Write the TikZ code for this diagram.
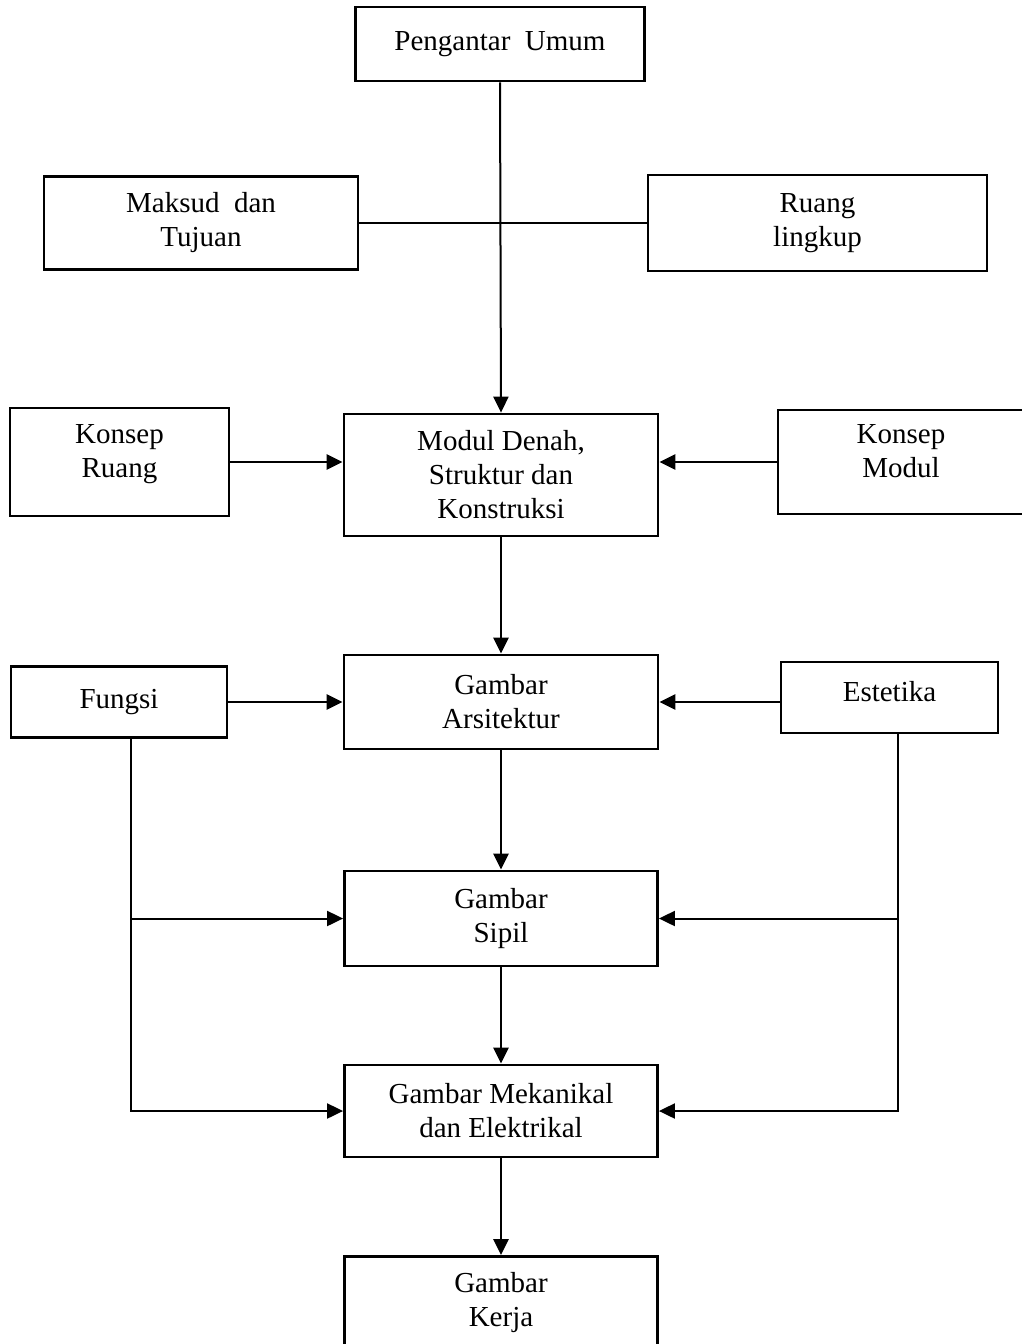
\documentclass[tikz,border=0pt]{standalone}
\usepackage{fontspec}
\setmainfont{Liberation Serif}
\usetikzlibrary{arrows.meta}

\begin{document}
\begin{tikzpicture}[x=0.5pt,y=-0.5pt,
        kotak/.style={draw, line width=1.4pt, align=center, inner sep=0pt,
            font=\fontsize{14.5}{17}\selectfont},
        panah/.style={line width=1.3pt, -{Triangle[length=8pt,width=7.5pt]}},
        garis/.style={line width=1pt}]
    \useasboundingbox (0,0) rectangle (1022,1344);
    % kotak-kotak
    \node[kotak, minimum width=144.5pt, minimum height=37pt]
        (peng) at (500,44) {Pengantar~~Umum};
    \node[kotak, minimum width=157pt, minimum height=46.5pt]
        (maksud) at (201,223) {Maksud~~dan\\Tujuan};
    \node[kotak, minimum width=169.5pt, minimum height=48pt]
        (lingkup) at (817.5,223) {Ruang\\lingkup};
    \node[kotak, minimum width=109.5pt, minimum height=54pt, text depth=11pt]
        (kruang) at (119.5,462) {Konsep\\Ruang};
    \node[kotak, minimum width=157pt, minimum height=61pt]
        (modul) at (501,475) {Modul Denah,\\Struktur dan\\Konstruksi};
    \node[kotak, minimum width=123pt, minimum height=52pt, text depth=11pt]
        (kmodul) at (901,462) {Konsep\\Modul};
    \node[kotak, minimum width=108pt, minimum height=35.5pt]
        (fungsi) at (119,702) {Fungsi};
    \node[kotak, minimum width=157pt, minimum height=47pt]
        (arsi) at (501,702) {Gambar\\Arsitektur};
    \node[kotak, minimum width=108.5pt, minimum height=35.5pt, text depth=6pt]
        (estetika) at (889.5,697.5) {Estetika};
    \node[kotak, minimum width=156.5pt, minimum height=47.5pt]
        (sipil) at (501,918.5) {Gambar\\Sipil};
    \node[kotak, minimum width=156.5pt, minimum height=46pt]
        (mek) at (501,1111) {Gambar Mekanikal\\dan Elektrikal};
    \node[kotak, minimum width=156.5pt, minimum height=46.5pt]
        (kerja) at (501,1303) {Gambar\\Kerja};
    \coordinate (fturun) at ([xshift=6pt]fungsi.south);
    \coordinate (eturun) at ([xshift=4.25pt]estetika.south);
    % garis penghubung
    \draw[panah, line width=1pt] (peng.south) -- (modul.north);
    \draw[line width=1.3pt] (maksud.east) -- (lingkup.west);
    \draw[panah] (kruang.east) -- (kruang.east -| modul.west);
    \draw[panah] (kmodul.west) -- (kmodul.west -| modul.east);
    \draw[panah] (modul.south) -- (arsi.north);
    \draw[panah] (fungsi.east) -- (arsi.west);
    \draw[panah] (estetika.west |- arsi.east) -- (arsi.east);
    \draw[panah] (arsi.south) -- (sipil.north);
    \draw[panah] (sipil.south) -- (mek.north);
    \draw[panah] (mek.south) -- (kerja.north);
    \draw[garis, -{Triangle[length=8pt,width=7.5pt]}] (fturun) |- (mek.west);
    \draw[panah, line width=1pt] (fturun |- sipil.west) -- (sipil.west);
    \draw[garis, -{Triangle[length=8pt,width=7.5pt]}] (eturun) |- (mek.east);
    \draw[panah, line width=1pt] (eturun |- sipil.east) -- (sipil.east);
\end{tikzpicture}
\end{document}
